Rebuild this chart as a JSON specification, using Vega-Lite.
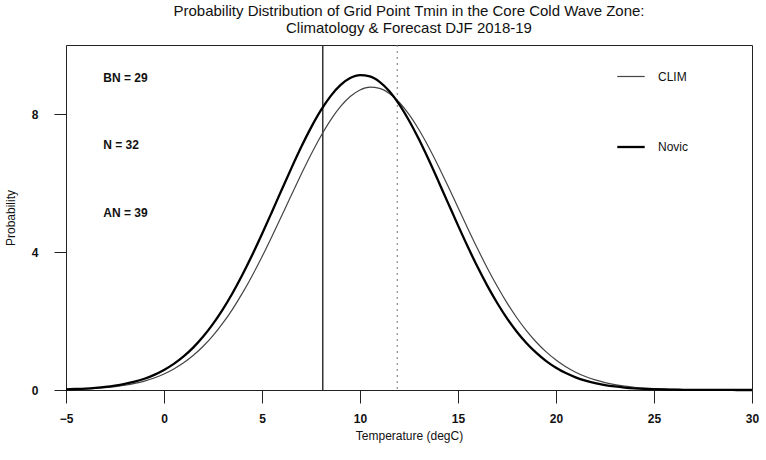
{
  "$schema": "https://vega.github.io/schema/vega-lite/v6.json",
  "width": 686,
  "height": 345,
  "autosize": "none",
  "padding": {"left": 66, "top": 45, "right": 14, "bottom": 70},
  "background": "white",
  "config": {
    "font": "Liberation Sans",
    "view": {"stroke": "#222", "strokeWidth": 1},
    "axis": {"domain": false, "grid": false, "tickColor": "#222", "labelColor": "#111", "titleColor": "#111", "labelFont": "Liberation Sans", "titleFont": "Liberation Sans", "labelFontWeight": "bold", "titleFontWeight": "normal"}
  },
  "title": {
    "text": ["Probability Distribution of Grid Point Tmin in the Core Cold Wave Zone:", "Climatology & Forecast DJF 2018-19"],
    "font": "Liberation Sans",
    "fontSize": 15,
    "fontWeight": "normal",
    "color": "#111",
    "anchor": "middle",
    "offset": 8,
    "lineHeight": 17
  },
  "layer": [
    {
      "data": {"values": [{"t": 8.1}]},
      "mark": {"type": "rule", "color": "#333", "strokeWidth": 1.5},
      "encoding": {"x": {"field": "t", "type": "quantitative", "scale": {"domain": [-5, 30]}}}
    },
    {
      "data": {"values": [{"t": 11.9}]},
      "mark": {"type": "rule", "color": "#777", "strokeWidth": 1, "strokeDash": [2, 4]},
      "encoding": {"x": {"field": "t", "type": "quantitative", "scale": {"domain": [-5, 30]}}}
    },
    {
      "data": {"values": [
        {"t": -5, "CLIM": 0.015, "Novic": 0.019},
        {"t": -4.5, "CLIM": 0.023, "Novic": 0.029},
        {"t": -4, "CLIM": 0.033, "Novic": 0.042},
        {"t": -3.5, "CLIM": 0.048, "Novic": 0.062},
        {"t": -3, "CLIM": 0.069, "Novic": 0.088},
        {"t": -2.5, "CLIM": 0.098, "Novic": 0.125},
        {"t": -2, "CLIM": 0.138, "Novic": 0.175},
        {"t": -1.5, "CLIM": 0.190, "Novic": 0.240},
        {"t": -1, "CLIM": 0.259, "Novic": 0.327},
        {"t": -0.5, "CLIM": 0.349, "Novic": 0.438},
        {"t": 0, "CLIM": 0.463, "Novic": 0.580},
        {"t": 0.5, "CLIM": 0.608, "Novic": 0.756},
        {"t": 1, "CLIM": 0.787, "Novic": 0.974},
        {"t": 1.5, "CLIM": 1.005, "Novic": 1.237},
        {"t": 2, "CLIM": 1.267, "Novic": 1.550},
        {"t": 2.5, "CLIM": 1.576, "Novic": 1.916},
        {"t": 3, "CLIM": 1.936, "Novic": 2.338},
        {"t": 3.5, "CLIM": 2.346, "Novic": 2.813},
        {"t": 4, "CLIM": 2.807, "Novic": 3.340},
        {"t": 4.5, "CLIM": 3.314, "Novic": 3.911},
        {"t": 5, "CLIM": 3.863, "Novic": 4.520},
        {"t": 5.5, "CLIM": 4.445, "Novic": 5.154},
        {"t": 6, "CLIM": 5.046, "Novic": 5.797},
        {"t": 6.5, "CLIM": 5.654, "Novic": 6.432},
        {"t": 7, "CLIM": 6.253, "Novic": 7.042},
        {"t": 7.5, "CLIM": 6.827, "Novic": 7.605},
        {"t": 8, "CLIM": 7.356, "Novic": 8.104},
        {"t": 8.5, "CLIM": 7.823, "Novic": 8.519},
        {"t": 9, "CLIM": 8.211, "Novic": 8.836},
        {"t": 9.5, "CLIM": 8.506, "Novic": 9.041},
        {"t": 10, "CLIM": 8.697, "Novic": 9.128},
        {"t": 10.5, "CLIM": 8.778, "Novic": 9.091},
        {"t": 11, "CLIM": 8.743, "Novic": 8.932},
        {"t": 11.5, "CLIM": 8.596, "Novic": 8.659},
        {"t": 12, "CLIM": 8.341, "Novic": 8.281},
        {"t": 12.5, "CLIM": 7.988, "Novic": 7.813},
        {"t": 13, "CLIM": 7.551, "Novic": 7.274},
        {"t": 13.5, "CLIM": 7.045, "Novic": 6.680},
        {"t": 14, "CLIM": 6.488, "Novic": 6.052},
        {"t": 14.5, "CLIM": 5.896, "Novic": 5.410},
        {"t": 15, "CLIM": 5.289, "Novic": 4.771},
        {"t": 15.5, "CLIM": 4.683, "Novic": 4.151},
        {"t": 16, "CLIM": 4.092, "Novic": 3.563},
        {"t": 16.5, "CLIM": 3.530, "Novic": 3.018},
        {"t": 17, "CLIM": 3.005, "Novic": 2.522},
        {"t": 17.5, "CLIM": 2.525, "Novic": 2.078},
        {"t": 18, "CLIM": 2.094, "Novic": 1.690},
        {"t": 18.5, "CLIM": 1.714, "Novic": 1.356},
        {"t": 19, "CLIM": 1.385, "Novic": 1.074},
        {"t": 19.5, "CLIM": 1.104, "Novic": 0.838},
        {"t": 20, "CLIM": 0.869, "Novic": 0.646},
        {"t": 20.5, "CLIM": 0.675, "Novic": 0.491},
        {"t": 21, "CLIM": 0.517, "Novic": 0.368},
        {"t": 21.5, "CLIM": 0.392, "Novic": 0.272},
        {"t": 22, "CLIM": 0.293, "Novic": 0.199},
        {"t": 22.5, "CLIM": 0.216, "Novic": 0.143},
        {"t": 23, "CLIM": 0.157, "Novic": 0.102},
        {"t": 23.5, "CLIM": 0.113, "Novic": 0.071},
        {"t": 24, "CLIM": 0.080, "Novic": 0.049},
        {"t": 24.5, "CLIM": 0.056, "Novic": 0.034},
        {"t": 25, "CLIM": 0.039, "Novic": 0.023},
        {"t": 25.5, "CLIM": 0.026, "Novic": 0.015},
        {"t": 26, "CLIM": 0.018, "Novic": 0.010},
        {"t": 26.5, "CLIM": 0.012, "Novic": 0.006},
        {"t": 27, "CLIM": 0.008, "Novic": 0.004},
        {"t": 27.5, "CLIM": 0.005, "Novic": 0.003},
        {"t": 28, "CLIM": 0.003, "Novic": 0.002},
        {"t": 28.5, "CLIM": 0.002, "Novic": 0.001},
        {"t": 29, "CLIM": 0.001, "Novic": 0.001},
        {"t": 29.5, "CLIM": 0.001, "Novic": 0.0},
        {"t": 30, "CLIM": 0.0, "Novic": 0.0}
      ]},
      "transform": [{"fold": ["CLIM", "Novic"], "as": ["series", "p"]}],
      "mark": {"type": "line", "interpolate": "monotone"},
      "encoding": {
        "x": {
          "field": "t", "type": "quantitative",
          "scale": {"domain": [-5, 30], "nice": false, "zero": false},
          "axis": {"values": [-5, 0, 5, 10, 15, 20, 25, 30], "title": "Temperature (degC)", "labelFontSize": 12, "titleFontSize": 12, "tickSize": 13, "labelPadding": 10, "titlePadding": 6, "labelFlush": false}
        },
        "y": {
          "field": "p", "type": "quantitative",
          "scale": {"domain": [0, 10], "nice": false},
          "axis": {"values": [0, 4, 8], "title": "Probability", "labelFontSize": 12, "titleFontSize": 12, "tickSize": 12, "labelPadding": 16, "titlePadding": 14, "labelAngle": 0}
        },
        "color": {
          "field": "series", "type": "nominal",
          "scale": {"domain": ["CLIM", "Novic"], "range": ["#444", "#000"]},
          "legend": {"title": null, "orient": "none", "legendX": 550, "legendY": 17, "symbolType": "stroke", "symbolSize": 750, "rowPadding": 49, "labelFontSize": 12, "labelOffset": 12, "labelFont": "Liberation Sans", "labelColor": "#111"}
        },
        "strokeWidth": {
          "field": "series", "type": "nominal",
          "scale": {"domain": ["CLIM", "Novic"], "range": [1.2, 2.3]},
          "legend": {"title": null, "orient": "none", "legendX": 550, "legendY": 17, "symbolType": "stroke", "symbolSize": 750, "rowPadding": 49, "labelFontSize": 12, "labelOffset": 12, "labelFont": "Liberation Sans", "labelColor": "#111"}
        }
      }
    },
    {
      "data": {"values": [
        {"label": "BN = 29", "t": -3.1, "p": 9.04},
        {"label": "N  = 32", "t": -3.1, "p": 7.1},
        {"label": "AN = 39", "t": -3.1, "p": 5.13}
      ]},
      "mark": {"type": "text", "align": "left", "baseline": "middle", "fontSize": 12, "fontWeight": "bold", "font": "Liberation Sans", "color": "#111"},
      "encoding": {
        "x": {"field": "t", "type": "quantitative"},
        "y": {"field": "p", "type": "quantitative"},
        "text": {"field": "label"}
      }
    }
  ]
}
